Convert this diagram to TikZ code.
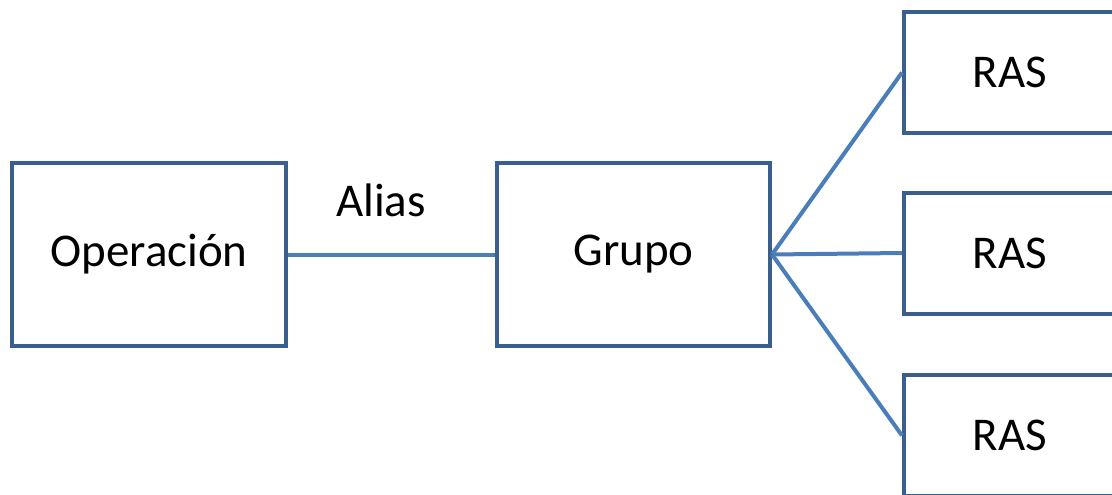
\documentclass[tikz,border=0pt]{standalone}
\usepackage{fontspec}
\setmainfont{Carlito}
\definecolor{boxblue}{HTML}{3A5F8E}
\definecolor{linkblue}{HTML}{4A7EBB}
\begin{document}
\begin{tikzpicture}[x=1pt,y=-1pt,
  box/.style={draw=boxblue,line width=4pt,fill=white,minimum width=#1,minimum height=183pt,inner sep=0pt,font=\fontsize{47}{56}\selectfont},
  rasbox/.style={draw=boxblue,line width=4pt,fill=white,minimum width=212pt,minimum height=121pt,inner sep=0pt,font=\fontsize{47}{56}\selectfont},
  link/.style={draw=linkblue,line width=4pt},
  lbl/.style={font=\fontsize{47}{56}\selectfont,inner sep=0pt}]
\useasboundingbox (0,0) rectangle (1112,495);
\clip (0,0) rectangle (1112,495);
\node[box=274pt] (op) at (149,254.5) {Operación};
\node[box=273pt] (gr) at (633.5,254.5) {Grupo};
\node[rasbox] (r1) at (1010,72.5) {RAS};
\node[rasbox] (r2) at (1010,253) {RAS};
\node[rasbox] (r3) at (1010,435.5) {RAS};
\draw[link] (op.east) -- (gr.west);
\node[lbl] (al) at (381,200) {Alias};
\draw[link] (gr.east) -- (r1.west);
\draw[link] (gr.east) -- (r2.west);
\draw[link] (gr.east) -- (r3.west);
\end{tikzpicture}
\end{document}
